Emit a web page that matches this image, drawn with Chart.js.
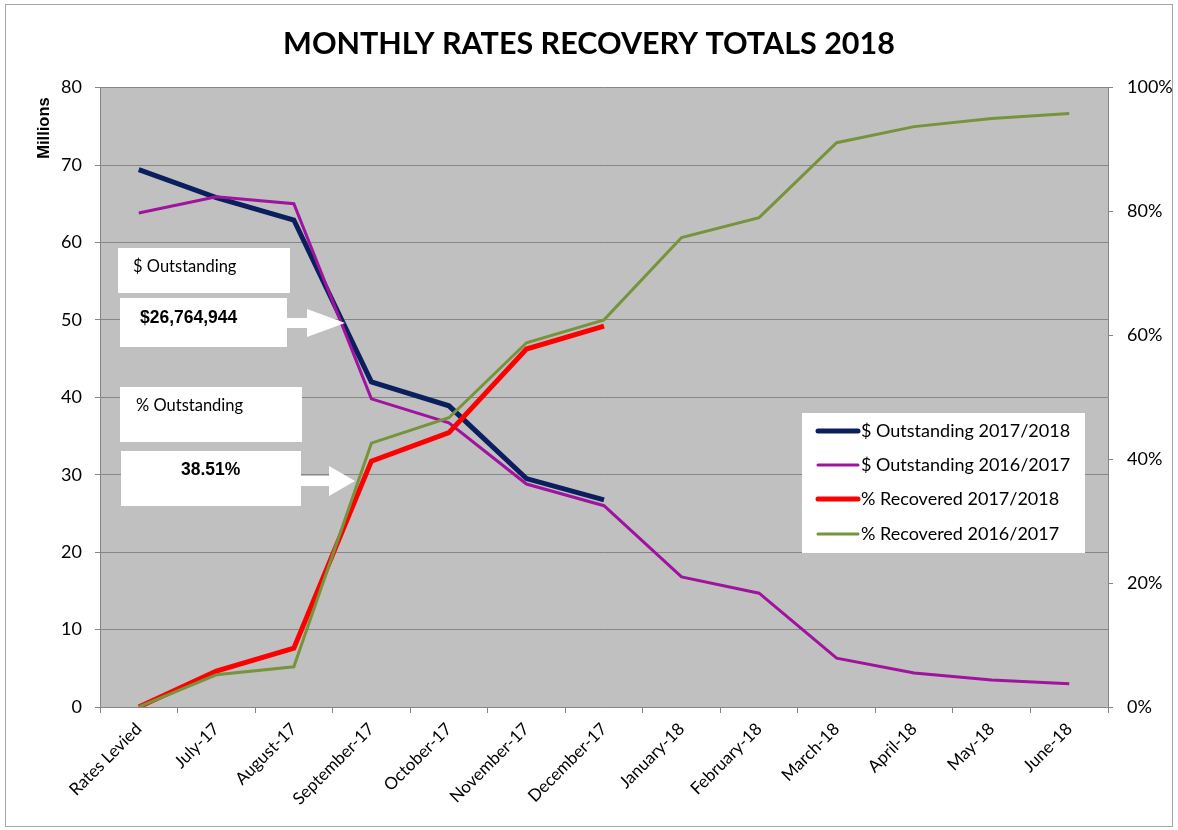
<!DOCTYPE html>
<html>
<head>
<meta charset="utf-8">
<script src="https://cdn.jsdelivr.net/npm/chart.js@4.4.1/dist/chart.umd.min.js"></script>
<style>
    body { margin: 0; background: #ffffff; }
</style>
</head>
<body>
<canvas id="ratesChart" width="1178" height="830"></canvas>
<script>
// Chart data (values in millions / percent)
const categories = ['Rates Levied', 'July-17', 'August-17', 'September-17', 'October-17', 'November-17',
    'December-17', 'January-18', 'February-18', 'March-18', 'April-18', 'May-18', 'June-18'];
const outstanding1718 = [69.4, 65.8, 62.9, 42.0, 38.9, 29.5, 26.76];
const outstanding1617 = [63.8, 65.9, 65.0, 39.8, 36.7, 28.8, 26.0, 16.8, 14.7, 6.3, 4.4, 3.5, 3.0];
const recovered1718 = [0, 5.8, 9.5, 39.7, 44.3, 57.8, 61.49];
const recovered1617 = [0, 5.2, 6.5, 42.6, 46.7, 58.8, 62.5, 75.8, 79.0, 91.1, 93.7, 95.0, 95.8];
const seriesNames = ['$ Outstanding 2017/2018', '$ Outstanding 2016/2017', '% Recovered 2017/2018', '% Recovered 2016/2017'];
const seriesColors = ['#0B1F5E', '#A0139F', '#FF0000', '#77933C'];
const seriesWidths = [5, 3, 5, 3];
const leftAxis = { min: 0, max: 80, step: 10 };
const rightAxis = { min: 0, max: 100, step: 20 };
const calloutLabels = ['$ Outstanding', '$26,764,944', '% Outstanding', '38.51%'];

const FONT = 'Lato, "Noto Sans", sans-serif';
const BOLD_FONT = '"Liberation Sans", Arial, sans-serif';
const GRID = '#868686';

// Plot background, outer frame, callouts and legend
const decorations = {
    id: 'decorations',
    beforeDraw(chart) {
        const ctx = chart.ctx;
        const a = chart.chartArea;
        ctx.save();
        ctx.fillStyle = '#ffffff';
        ctx.fillRect(0, 0, chart.width, chart.height);
        ctx.strokeStyle = '#a6a6a6';
        ctx.lineWidth = 1;
        ctx.strokeRect(5.5, 4.5, chart.width - 11, chart.height - 8);
        ctx.fillStyle = '#C0C0C0';
        ctx.fillRect(a.left, a.top, a.right - a.left, a.bottom - a.top);

        // axis title
        ctx.translate(44, 128);
        ctx.rotate(-Math.PI / 2);
        ctx.fillStyle = '#000000';
        ctx.font = 'bold 16.5px ' + BOLD_FONT;
        ctx.textAlign = 'center';
        ctx.textBaseline = 'middle';
        ctx.fillText('Millions', 0, 0);
        ctx.restore();
    },
    afterDatasetsDraw(chart) {
        const ctx = chart.ctx;
        ctx.save();
        ctx.fillStyle = '#ffffff';
        // callout boxes
        ctx.fillRect(118, 248, 172, 45);
        ctx.fillRect(120, 298, 167, 49);
        ctx.fillRect(120, 387, 182, 55);
        ctx.fillRect(121, 451, 180, 55);
        // arrows
        drawArrow(ctx, 287, 323, 307, 345, 10, 28);
        drawArrow(ctx, 301, 481, 329, 355, 10, 30);

        ctx.fillStyle = '#000000';
        ctx.textBaseline = 'middle';
        ctx.textAlign = 'left';
        ctx.font = '16.5px ' + FONT;
        ctx.fillText(calloutLabels[0], 133, 267);
        ctx.fillText(calloutLabels[2], 136, 406);
        ctx.font = 'bold 17.5px ' + BOLD_FONT;
        ctx.fillText(calloutLabels[1], 140, 318);
        ctx.fillText(calloutLabels[3], 181, 470);

        // legend
        ctx.fillStyle = '#ffffff';
        ctx.fillRect(802, 413, 283, 140);
        ctx.font = '18px ' + FONT;
        ctx.lineCap = 'round';
        const rowY = [431, 465, 499, 534];
        seriesNames.forEach((name, i) => {
            ctx.strokeStyle = seriesColors[i];
            ctx.lineWidth = seriesWidths[i];
            ctx.beginPath();
            ctx.moveTo(818, rowY[i]);
            ctx.lineTo(858, rowY[i]);
            ctx.stroke();
            ctx.fillStyle = '#000000';
            ctx.fillText(name, 861, rowY[i]);
        });
        ctx.restore();
    }
};

function drawArrow(ctx, x0, y, xHead, xTip, shaft, head) {
    ctx.beginPath();
    ctx.moveTo(x0, y - shaft / 2);
    ctx.lineTo(xHead, y - shaft / 2);
    ctx.lineTo(xHead, y - head / 2);
    ctx.lineTo(xTip, y);
    ctx.lineTo(xHead, y + head / 2);
    ctx.lineTo(xHead, y + shaft / 2);
    ctx.lineTo(x0, y + shaft / 2);
    ctx.closePath();
    ctx.fill();
}

const datasetValues = [outstanding1718, outstanding1617, recovered1718, recovered1617];
const axisIds = ['y', 'y', 'y1', 'y1'];

new Chart(document.getElementById('ratesChart'), {
    type: 'line',
    data: {
        labels: categories,
        datasets: datasetValues.map((values, i) => ({
            label: seriesNames[i],
            data: values,
            yAxisID: axisIds[i],
            borderColor: seriesColors[i],
            backgroundColor: seriesColors[i],
            borderWidth: seriesWidths[i],
            pointRadius: 0,
            tension: 0,
            borderJoinStyle: 'miter',
            order: 4 - i
        }))
    },
    options: {
        responsive: false,
        animation: false,
        layout: { padding: 0 },
        plugins: {
            legend: { display: false },
            tooltip: { enabled: false },
            title: {
                display: true,
                text: 'MONTHLY RATES RECOVERY TOTALS 2018',
                color: '#000000',
                font: { family: FONT, size: 30.5, weight: 'bold' },
                padding: { top: 26, bottom: 25 }
            }
        },
        scales: {
            x: {
                offset: true,
                afterFit: scale => { scale.height = 123; },
                grid: { offset: true, drawOnChartArea: false, tickLength: 6, color: GRID },
                border: { color: GRID },
                ticks: {
                    color: '#000000',
                    font: { family: FONT, size: 17 },
                    minRotation: 45,
                    maxRotation: 45,
                    autoSkip: false,
                    padding: 6
                }
            },
            y: {
                position: 'left',
                min: leftAxis.min,
                max: leftAxis.max,
                afterFit: scale => { scale.width = 100; },
                grid: { color: GRID, tickLength: 5 },
                border: { color: GRID },
                ticks: {
                    stepSize: leftAxis.step,
                    color: '#000000',
                    font: { family: FONT, size: 18 },
                    padding: 13
                }
            },
            y1: {
                position: 'right',
                min: rightAxis.min,
                max: rightAxis.max,
                afterFit: scale => { scale.width = 70; },
                grid: { drawOnChartArea: false, color: GRID, tickLength: 5 },
                border: { color: GRID },
                ticks: {
                    stepSize: rightAxis.step,
                    color: '#000000',
                    font: { family: FONT, size: 18 },
                    padding: 14,
                    callback: v => v + '%'
                }
            }
        }
    },
    plugins: [decorations]
});
</script>
</body>
</html>
